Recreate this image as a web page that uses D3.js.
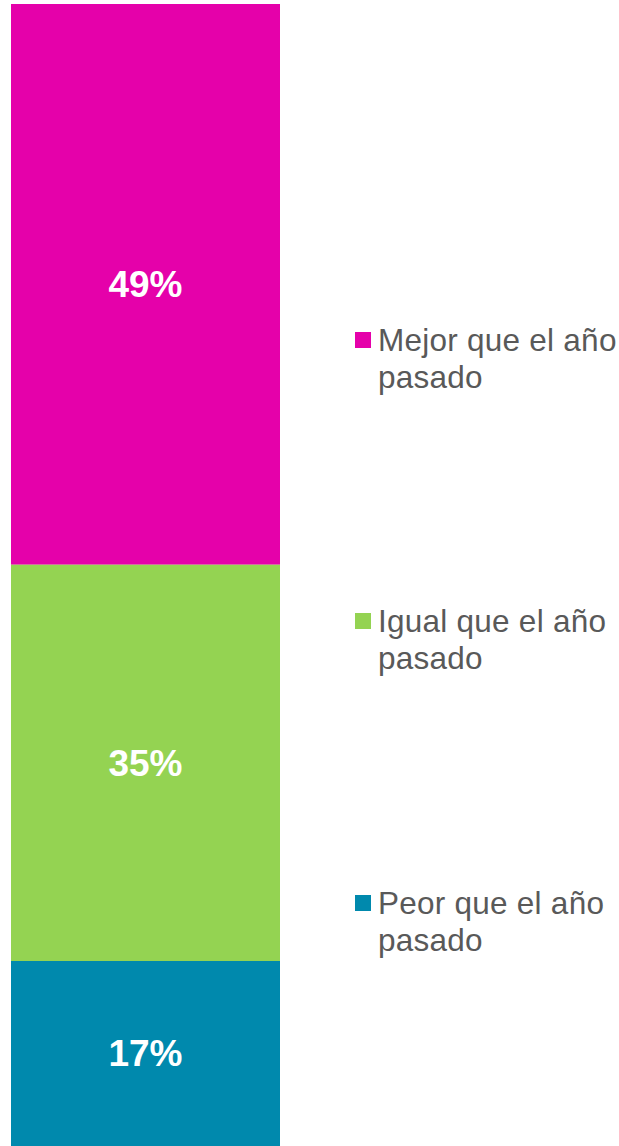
<!DOCTYPE html>
<html>
<head>
<meta charset="utf-8">
<script src="https://cdn.jsdelivr.net/npm/d3@7"></script>
<style>
  html, body { margin: 0; padding: 0; background: #fff; }
  svg { display: block; font-family: "Liberation Sans", Arial, sans-serif; }
</style>
</head>
<body>
<svg id="chart" width="619" height="1146"></svg>
<script>
const width = 619;
const height = 1146;

// stacked from top to bottom
const categories = ["Mejor que el año pasado", "Igual que el año pasado", "Peor que el año pasado"];
const values = [49.1, 34.7, 16.2];
const labels = ["49%", "35%", "17%"];
const colors = ["#e501aa", "#94d352", "#0089ad"];
const legendLines = [["Mejor que el año", "pasado"], ["Igual que el año", "pasado"], ["Peor que el año", "pasado"]];

const svg = d3.select("#chart");

const total = d3.sum(values);
const y = d3.scaleLinear().domain([0, total]).range([4, 1146]);
const x = d3.scaleBand().domain(["all"]).range([11, 280]).padding(0);

let acc = 0;
const stack = values.map((v, i) => {
    const d = { i: i, y0: acc, y1: acc + v };
    acc += v;
    return d;
});

svg.selectAll("rect.seg")
    .data(stack)
    .enter()
    .append("rect")
    .attr("class", "seg")
    .attr("x", x("all"))
    .attr("width", x.bandwidth())
    .attr("y", d => y(d.y0))
    .attr("height", d => y(d.y1) - y(d.y0))
    .attr("fill", d => colors[d.i]);

svg.selectAll("text.val")
    .data(stack)
    .enter()
    .append("text")
    .attr("class", "val")
    .attr("x", x("all") + x.bandwidth() / 2)
    .attr("y", d => (y(d.y0) + y(d.y1)) / 2 + 13)
    .attr("text-anchor", "middle")
    .attr("font-size", 37)
    .attr("font-weight", "bold")
    .attr("fill", "#fff")
    .text(d => labels[d.i]);

// legend
const legendBase = [351, 632, 914];

const leg = svg.selectAll("g.leg")
    .data(categories)
    .enter()
    .append("g")
    .attr("class", "leg")
    .attr("transform", (d, i) => `translate(355,${legendBase[i]})`);

leg.append("rect")
    .attr("x", 0)
    .attr("y", -19)
    .attr("width", 16)
    .attr("height", 16)
    .attr("fill", (d, i) => colors[i]);

leg.each(function(d, i) {
    const t = d3.select(this).append("text")
        .attr("font-size", 31.5)
        .attr("letter-spacing", 0.25)
        .attr("fill", "#595959");
    legendLines[i].forEach((line, j) => {
        t.append("tspan")
            .attr("x", 23)
            .attr("y", j * 37)
            .text(line);
    });
});
</script>
</body>
</html>
